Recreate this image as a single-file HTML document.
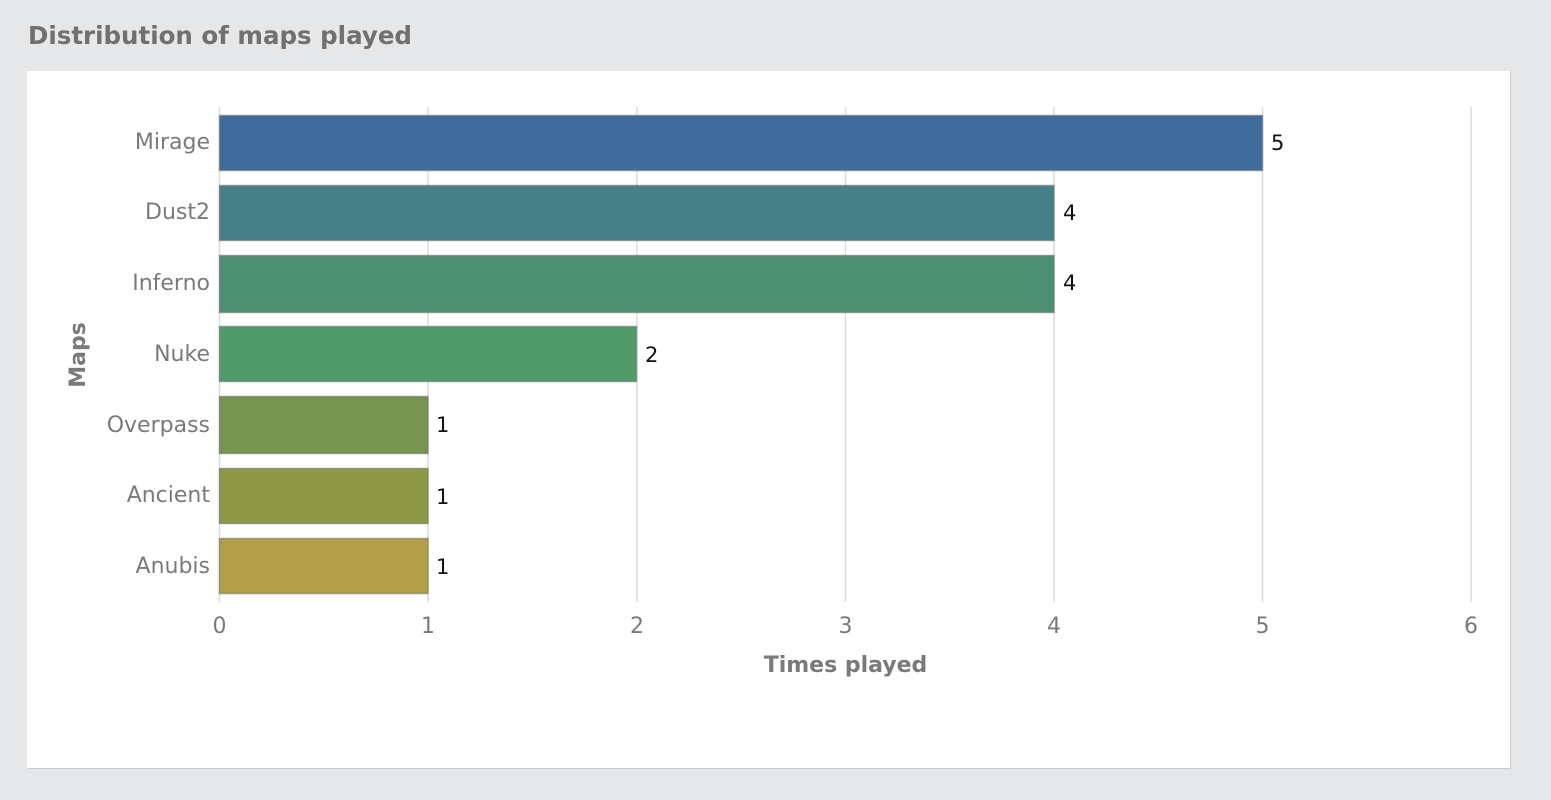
<!DOCTYPE html>
<html><head><meta charset="utf-8"><style>
html,body{margin:0;padding:0;background:#e6e7e9;width:1551px;height:800px;overflow:hidden}
svg{display:block}
text{font-family:"DejaVu Sans","Liberation Sans",sans-serif}
</style></head><body>
<svg width="1551" height="800" viewBox="0 0 1551 800">
<rect width="1551" height="800" fill="#e6e7e9"/>
<text x="28" y="44" font-size="24.5" font-weight="bold" fill="#707070">Distribution of maps played</text>
<rect x="28" y="72" width="1483" height="697" fill="#c9cacc"/>
<rect x="27" y="71" width="1483" height="697" fill="#ffffff"/>
<g stroke="#dcdcdc" stroke-width="1.5">
<line x1="219.5" y1="107" x2="219.5" y2="602"/>
<line x1="428" y1="107" x2="428" y2="602"/>
<line x1="637" y1="107" x2="637" y2="602"/>
<line x1="845.5" y1="107" x2="845.5" y2="602"/>
<line x1="1054" y1="107" x2="1054" y2="602"/>
<line x1="1262.5" y1="107" x2="1262.5" y2="602"/>
<line x1="1471" y1="107" x2="1471" y2="602"/>
</g>
<g stroke-width="1.5" stroke="#6f7370" stroke-opacity="0.6">
<rect x="219.5" y="115.5" width="1043" height="55" fill="#3f6c9d"/>
<rect x="219.5" y="185.5" width="834.5" height="55" fill="#467f88"/>
<rect x="219.5" y="255.5" width="834.5" height="57" fill="#4d8f72"/>
<rect x="219.5" y="326.5" width="417" height="55" fill="#519b6b"/>
<rect x="219.5" y="396.5" width="208.5" height="57" fill="#76944d"/>
<rect x="219.5" y="468.5" width="208.5" height="55" fill="#8e9947"/>
<rect x="219.5" y="538.5" width="208.5" height="55" fill="#b3a047"/>
</g>
<g font-size="22" fill="#7a7a7a" text-anchor="end">
<text x="210" y="149">Mirage</text>
<text x="210" y="219">Dust2</text>
<text x="210" y="290">Inferno</text>
<text x="210" y="361">Nuke</text>
<text x="210" y="432">Overpass</text>
<text x="210" y="502">Ancient</text>
<text x="210" y="573">Anubis</text>
</g>
<g font-size="21" fill="#111">
<text x="1271" y="150">5</text>
<text x="1063" y="220">4</text>
<text x="1063" y="290">4</text>
<text x="645" y="362">2</text>
<text x="436" y="432">1</text>
<text x="436" y="504">1</text>
<text x="436" y="574">1</text>
</g>
<g font-size="22" fill="#7a7a7a" text-anchor="middle">
<text x="219.5" y="633">0</text>
<text x="428" y="633">1</text>
<text x="637" y="633">2</text>
<text x="845.5" y="633">3</text>
<text x="1054" y="633">4</text>
<text x="1262.5" y="633">5</text>
<text x="1471" y="633">6</text>
</g>
<text x="845.5" y="672" font-size="22" font-weight="bold" fill="#7a7a7a" text-anchor="middle">Times played</text>
<text transform="translate(85,355) rotate(-90)" font-size="22" font-weight="bold" fill="#7a7a7a" text-anchor="middle">Maps</text>
</svg>
</body></html>
